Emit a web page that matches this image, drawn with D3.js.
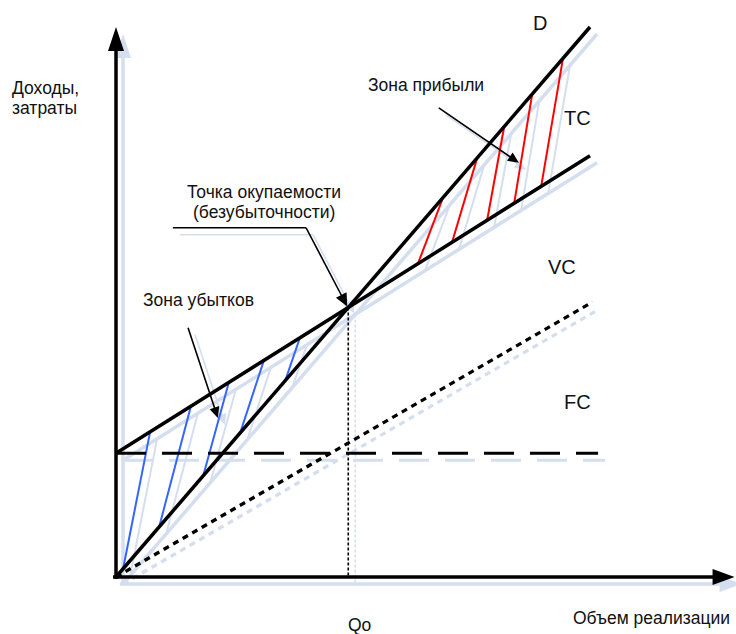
<!DOCTYPE html>
<html>
<head>
<meta charset="utf-8">
<script src="https://cdn.jsdelivr.net/npm/d3@7"></script>
<style>
  body { margin: 0; background: #fff; }
  svg text { font-family: "Liberation Sans", Arial, sans-serif; fill: #111; }
</style>
</head>
<body>
<svg id="chart" width="736" height="634"></svg>
<script>
// break-even chart values (volume Q vs revenue / costs, same units on both axes)
var revenueLine = [[0, 0], [100, 100]];          // D
var totalCostLine = [[0, 22.5], [100, 76.6]];    // TC
var variableCostLine = [[0, 0], [100.5, 50]];    // VC
var fixedCostLine = [[0, 22.5], [101.7, 22.5]];  // FC
var breakEvenQ = 49;                             // Qo

// hatch strokes: [Q on upper line, Q on lower line]
var lossHatch = [[7.2, 1.5], [15.8, 9.1], [23.8, 18.4], [31.2, 26.2], [38.8, 35.7]];
var profitHatch = [[69.0, 63.7], [76.2, 70.9], [81.9, 78.3], [87.8, 84.0], [94.3, 89.7]];

var axisMax = { q: 130.5, y: 100 };

var margin = { left: 116, right: 146, top: 27, bottom: 57 };
var svg = d3.select("#chart");

var xScale = d3.scaleLinear().domain([0, 100]).range([margin.left, 736 - margin.right]);
var yScale = d3.scaleLinear().domain([0, 100]).range([634 - margin.bottom, margin.top]);

var shadowColor = "#d4deef";
var shadowOffset = 7;

function lineY(line, q) {
    var a = line[0], b = line[1];
    return a[1] + (b[1] - a[1]) * (q - a[0]) / (b[0] - a[0]);
}

// arrow: line from p1 to p2 with a filled head at p2
function arrow(g, x1, y1, x2, y2, len, half, width, color) {
    var dx = x2 - x1, dy = y2 - y1, d = Math.sqrt(dx * dx + dy * dy);
    var ux = dx / d, uy = dy / d;
    var bx = x2 - ux * len, by = y2 - uy * len;
    g.append("line")
        .attr("x1", x1).attr("y1", y1)
        .attr("x2", bx + ux * 2).attr("y2", by + uy * 2)
        .attr("stroke", color).attr("stroke-width", width);
    g.append("path")
        .attr("d", `M${x2},${y2}L${bx - uy * half},${by + ux * half}L${bx + uy * half},${by - ux * half}Z`)
        .attr("fill", color);
}

function drawLayer(g, shadow) {
    var black = shadow ? shadowColor : "#000";
    var blue = shadow ? shadowColor : "#3366ff";
    var red = shadow ? shadowColor : "#ff0000";

    var line = d3.line().x(d => xScale(d[0])).y(d => yScale(d[1]));

    // hatching first so main lines sit on top
    g.selectAll(null)
        .data(lossHatch)
        .enter()
        .append("line")
        .attr("x1", d => xScale(d[0])).attr("y1", d => yScale(lineY(totalCostLine, d[0])))
        .attr("x2", d => xScale(d[1])).attr("y2", d => yScale(lineY(revenueLine, d[1])))
        .attr("stroke", blue).attr("stroke-width", 2);

    g.selectAll(null)
        .data(profitHatch)
        .enter()
        .append("line")
        .attr("x1", d => xScale(d[0])).attr("y1", d => yScale(lineY(revenueLine, d[0])))
        .attr("x2", d => xScale(d[1])).attr("y2", d => yScale(lineY(totalCostLine, d[1])))
        .attr("stroke", red).attr("stroke-width", 2);

    // FC dashed
    g.append("path").attr("d", line(fixedCostLine))
        .attr("fill", "none").attr("stroke", black)
        .attr("stroke-width", 3.2).attr("stroke-dasharray", "30,16");

    // VC dotted
    g.append("path").attr("d", line(variableCostLine))
        .attr("fill", "none").attr("stroke", black)
        .attr("stroke-width", 3.2).attr("stroke-dasharray", "6,5");

    // Qo vertical
    g.append("line")
        .attr("x1", xScale(breakEvenQ)).attr("x2", xScale(breakEvenQ))
        .attr("y1", yScale(lineY(revenueLine, breakEvenQ))).attr("y2", yScale(0))
        .attr("stroke", black).attr("stroke-width", 1.6).attr("stroke-dasharray", "3,2");

    // TC and D
    g.append("path").attr("d", line(totalCostLine))
        .attr("fill", "none").attr("stroke", black).attr("stroke-width", 3.5);
    g.append("path").attr("d", line(revenueLine))
        .attr("fill", "none").attr("stroke", black).attr("stroke-width", 3.5);

    // axes
    arrow(g, xScale(0), yScale(0) + 2, xScale(0), yScale(axisMax.y), 24, 8, 3.5, black);
    arrow(g, xScale(0) - 3, yScale(0), xScale(axisMax.q), yScale(0), 22, 8, 3.5, black);

    // annotation arrows
    arrow(g, xScale(15.2), yScale(45.3), xScale(21.5), yScale(28.9), 11, 5, 1.6, black);
    arrow(g, xScale(68.1), yScale(85.3), xScale(85.0), yScale(75.3), 11, 5, 1.6, black);
    g.append("line")
        .attr("x1", xScale(12)).attr("y1", yScale(63.5))
        .attr("x2", xScale(40.1)).attr("y2", yScale(63.5))
        .attr("stroke", black).attr("stroke-width", 1.6);
    arrow(g, xScale(40.1), yScale(63.5), xScale(breakEvenQ) - 1, yScale(lineY(revenueLine, breakEvenQ)) - 1,
        13, 6, 1.6, black);
}

drawLayer(svg.append("g").attr("transform", `translate(${shadowOffset},${shadowOffset})`), true);
drawLayer(svg.append("g"), false);

// labels
var labels = [
    { t: "D", x: 533, y: 30, s: 20 },
    { t: "TC", x: 564, y: 125, s: 20 },
    { t: "VC", x: 548, y: 274, s: 20 },
    { t: "FC", x: 564, y: 409, s: 20 },
    { t: "Доходы,", x: 12, y: 94, s: 17.5 },
    { t: "затраты", x: 12, y: 114, s: 17.5 },
    { t: "Зона прибыли", x: 368, y: 91, s: 17.5 },
    { t: "Точка окупаемости", x: 187, y: 198, s: 17.5 },
    { t: "(безубыточности)", x: 193, y: 218, s: 17.5 },
    { t: "Зона убытков", x: 143, y: 306, s: 17.5 },
    { t: "Qo", x: 348, y: 631, s: 17.5 },
    { t: "Объем реализации", x: 573, y: 624, s: 17.5 }
];

svg.selectAll("text.lbl")
    .data(labels)
    .enter()
    .append("text")
    .attr("class", "lbl")
    .attr("x", d => d.x)
    .attr("y", d => d.y)
    .attr("font-size", d => d.s)
    .text(d => d.t);
</script>
</body>
</html>
